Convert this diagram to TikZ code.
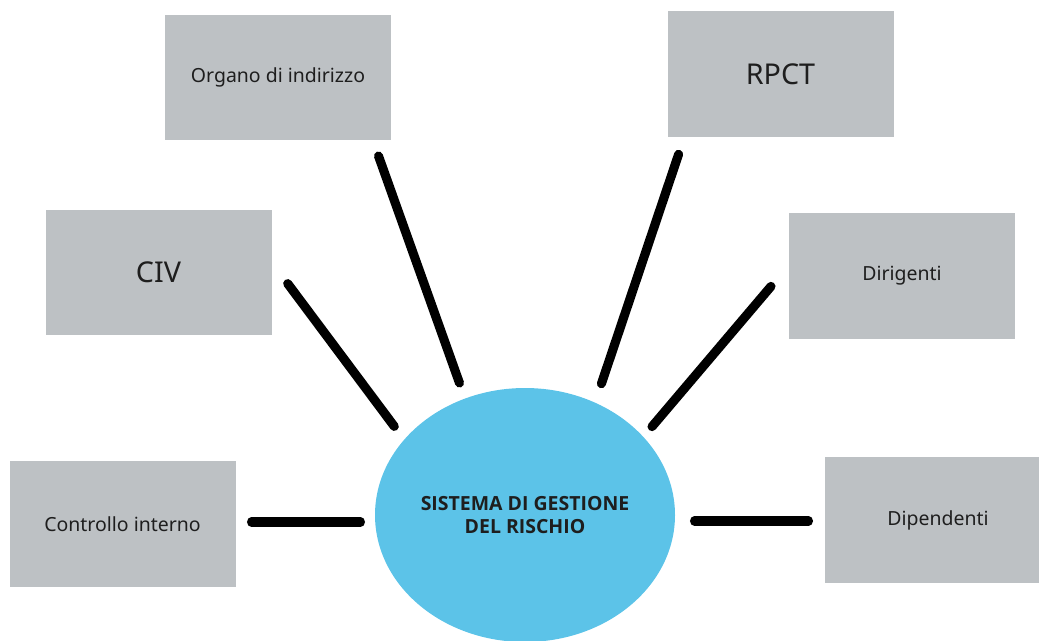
\documentclass[tikz,border=0pt]{standalone}
\usepackage{fontspec}
\setmainfont{Noto Sans}
\newfontfamily\fettsans{Open Sans}
\usetikzlibrary{shapes.geometric}
\definecolor{boxgray}{HTML}{BDC1C4}
\definecolor{riskblue}{HTML}{5CC3E8}
\definecolor{inkdark}{HTML}{1E1E1E}
\begin{document}
\begin{tikzpicture}[x=0.75pt,y=-0.75pt]
        \tikzstyle{ruolo}=[rectangle, fill=boxgray, minimum width=169.5pt, minimum height=94pt, inner sep=0pt, text=inkdark, font=\fontsize{14.6}{18}\selectfont]
        \tikzstyle{ruolo grande}=[ruolo, font=\fontsize{21.5}{26}\selectfont]
        \tikzstyle{legame}=[line width=6.8pt, line cap=round, black]
        \useasboundingbox (0,0) rectangle (1039,640);
        \node[ellipse, fill=riskblue, minimum width=225pt, minimum height=190.5pt, inner sep=0pt, align=center, text=inkdark, font=\fettsans\bfseries\fontsize{14.6}{17}\selectfont] (rischio) at (525,515) {SISTEMA DI GESTIONE\\DEL RISCHIO};
        \node[ruolo] (organo) at (278,77.5) {Organo di indirizzo};
        \node[ruolo grande] (rpct) at (780.5,74) {RPCT};
        \node[ruolo grande] (civ) at (158.5,272.5) {CIV};
        \node[ruolo] (dirigenti) at (902,276) {Dirigenti};
        \node[ruolo] (controllo) at (122.5,524) {Controllo interno};
        \node[ruolo] (dipendenti) at (938,520) {Dipendenti};
        \coordinate (organo-a) at (378.5,156);
        \coordinate (organo-b) at (459.5,383);
        \coordinate (civ-a) at (287.7,283.6);
        \coordinate (civ-b) at (394.3,426.4);
        \coordinate (controllo-a) at (251.5,522);
        \coordinate (controllo-b) at (360.5,522);
        \coordinate (rpct-a) at (678.6,154.3);
        \coordinate (rpct-b) at (601.4,383.7);
        \coordinate (dirigenti-a) at (771,286.4);
        \coordinate (dirigenti-b) at (652,426.6);
        \coordinate (dipendenti-a) at (808.5,521);
        \coordinate (dipendenti-b) at (694.5,521);
        \draw[legame] (organo-a) -- (organo-b);
        \draw[legame] (civ-a) -- (civ-b);
        \draw[legame] (controllo-a) -- (controllo-b);
        \draw[legame] (rpct-a) -- (rpct-b);
        \draw[legame] (dirigenti-a) -- (dirigenti-b);
        \draw[legame] (dipendenti-a) -- (dipendenti-b);
      \end{tikzpicture}
\end{document}
